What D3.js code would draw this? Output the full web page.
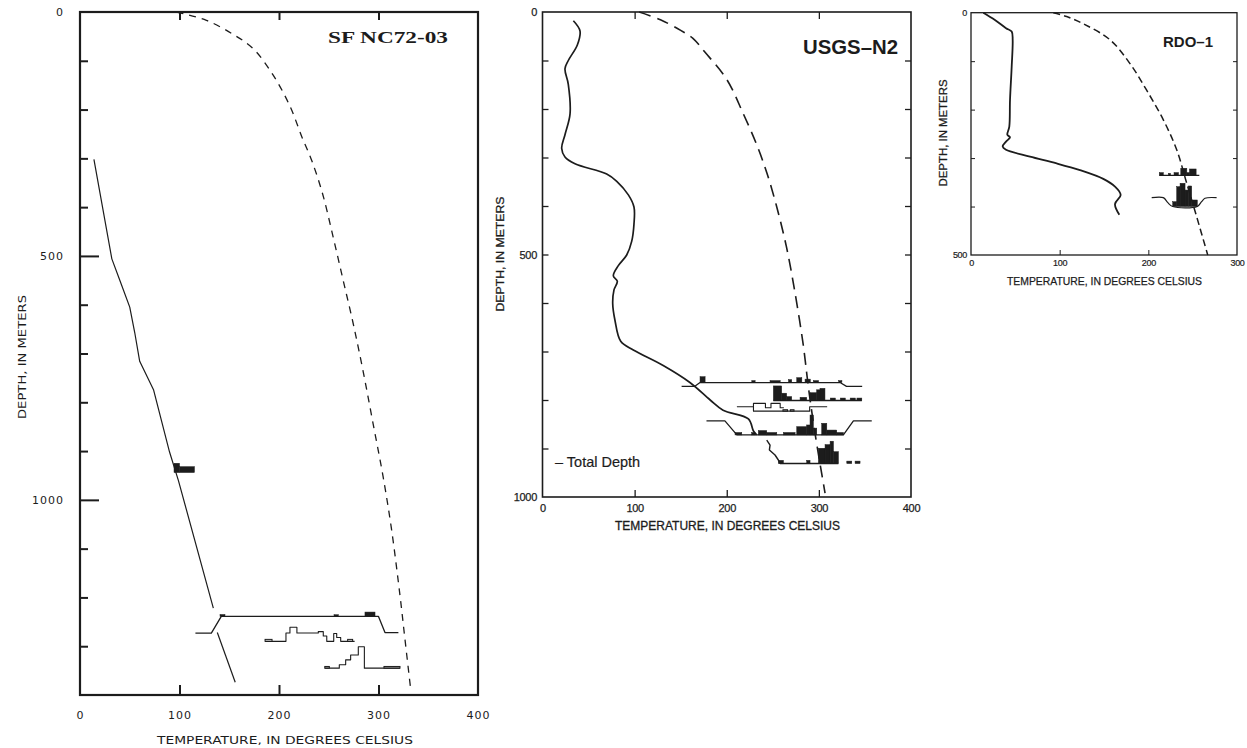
<!DOCTYPE html>
<html><head><meta charset="utf-8">
<script src="https://cdn.jsdelivr.net/npm/d3@7"></script>
<style>body{margin:0;background:#fff}svg{display:block}</style>
</head><body>
<svg id="c" width="1247" height="748"></svg>
<script>
// ---------- SF NC72-03 ----------
const sfXLabels = [0, 100, 200, 300, 400];
const sfYLabels = [0, 500, 1000];
const sfMinorY = [100, 200, 300, 400, 600, 700, 800, 900, 1100, 1200, 1300];
const sfMajorY = [500, 1000];
const sfEdgeX = [100, 200, 300];
const sfMeasured = [[14,302],[32,506],[40,550],[50,605],[55,657],[60,716],[74,775],[90,902],[99,961],[134,1222]];
const sfMeasuredLower = [[138,1272],[156,1374]];
const sfBoiling = [[97,0],[127,17],[154,46],[174,75],[194,129],[211,193],[223,256],[233,305],[244,374],[254.5,462],[264.5,550],[274.5,638],[284.5,736],[294.5,843],[304.5,951],[313,1059],[321.6,1196],[326.5,1284],[332,1382]];
const sfProfileA = [[116,1273],[132,1273],[142,1239],[300,1239],[306.5,1272],[320,1272]];
const sfProfileB = [[186,1290],[207,1290],[207,1273],[211,1273],[211,1261],[218,1261],[218,1273],[239.5,1273],[239.5,1270],[244.5,1270],[244.5,1279],[248,1279],[248,1290],[255,1290],[255,1274],[258,1274],[258,1282],[262,1282],[262,1290],[276,1290]];
const sfProfileC = [[246,1345],[260.6,1345],[260.6,1338],[267,1338],[267,1328],[272,1328],[272,1318],[279.7,1318],[279.7,1301],[285.8,1301],[285.8,1345],[321.6,1345]];
const sfBlocks = [[94.5,100,925,944],[100,115,932,944],[140.7,145.7,1235,1239],[255.3,259.6,1235.5,1239],[286.4,296.5,1230,1239]];
const sfOpen = [[186,193,1286,1290],[269,274,1286,1290],[246,250.6,1341.5,1345],[305.5,321.6,1341.5,1345]];

// ---------- USGS-N2 ----------
const usXLabels = [0, 100, 200, 300, 400];
const usYLabels = [0, 500, 1000];
const usSideY = [100, 200, 300, 400, 500, 600, 700, 800, 900];
const usEdgeX = [100, 200, 300];
const usMeasured = [[33.5,18],[40.7,39],[37.8,68],[28,100],[24.4,117],[28,149],[29.9,210],[24.4,253],[20.8,281],[24.4,299],[35.3,313],[69.7,334],[80.6,349],[93.2,377],[99.3,402],[99.3,437],[96.8,473],[91.4,501],[82.3,523],[76.9,544],[81.2,555],[77.6,573],[76.2,601],[78.7,636],[84.9,679],[98.6,697],[131,729],[160,764],[182,800],[196,821],[223.5,839],[229,864],[232.5,872]];
const usBoiling = [[105,0],[128,16],[150,38],[163,54],[176,82],[200,139],[218,210],[232.6,274],[243.4,331],[254.3,402],[265.1,487],[274.2,580],[283,686],[289,779],[296,871],[306.7,992]];
const usRow1 = [[151,772],[165,772],[171,764],[323,764],[330,772],[347,772]];
const usRow2 = [[250.6,801],[346.6,801]];
const usRow3Top = [[211,814],[229,814],[229,807],[242,807],[242,816],[248,816],[248,807],[258,807],[258,816],[262,816]];
const usRow3Base = [[229,814],[229,823],[290,823],[290,814],[309,814]];
const usRow4 = [[178,843],[198,843],[211,872],[326.6,872],[337.5,843],[357.4,843]];
const usRow5 = [[243.4,882.5],[247,893],[246.3,903],[252.4,913.4],[256,923.7],[257.9,931],[321.2,931]];
const usBlocks = [
  [171,176.5,752,764],[227.2,230.8,760,764],[247,258,760,764],[267,270.5,758,764],[276,281.5,754,764],[285,290.7,757,764],[294,299.6,760,764],[321.5,325,760,764],
  [250.6,259.6,771,801],[259.6,265,786,801],[265,270.5,793,801],[279.6,286.8,794.5,801],[290.4,297.6,785,801],[297.6,301.2,779,801],[301.2,306.6,776,801],[312.4,317.9,796,801],[323.3,328.7,796,801],[334,339.6,796,801],[341.3,346.6,796,801],
  [209,216.3,867,872],[227.1,230.7,867,872],[234.3,243.4,863,872],[243.4,254.3,867,872],[261.5,274.2,867,872],[276,286.8,855,872],[286.8,290.4,851.5,872],[290.4,294,831,872],[294,297.7,858,872],[303.1,308.6,848,872],[308.6,319.4,862,872],[319.4,326.6,867,872],
  [256,261.5,924.4,931],[286.8,290.4,924.4,931],[299.5,306.7,899.5,931],[306.7,312.2,892,931],[312.2,315.8,885,931],[315.8,321.2,906.6,931],[330.3,335.7,926,931],[339.3,344.7,926,931]
];
const usOpen = [[261,266,820,823],[269,273,820,823]];
const usTotalDepth = 927;

// ---------- RDO-1 ----------
const rdoXLabels = [0, 100, 200, 300];
const rdoYLabels = [0, 500];
const rdoSideY = [100, 200, 300, 400];
const rdoEdgeX = [100, 200];
const rdoMeasured = [[13.9,0],[27,15],[39.5,32],[45.9,39],[47,56],[45.9,111],[44,180],[43.2,235],[41,252],[44,257],[39.5,266],[35.7,276],[39.5,283],[66.5,297],[96.6,311],[122.9,325],[149.2,343],[162.4,359],[168.8,376],[162.4,395],[167.3,417]];
const rdoBoiling = [[92.8,0],[107.9,8],[126.7,23],[156.8,56],[179.3,105],[198.1,160],[216.9,221],[232,283],[243.3,352],[254.5,421],[267,500]];
const rdoRow1 = [[212.4,335.7],[257.5,335.7]];
const rdoRow2 = [[203.8,381.7],[216.9,381.7],[222,392],[227.5,400],[255.2,400],[260,390],[263.9,383],[277,381.7]];
const rdoBlocks = [[212.4,216.9,330,335.7],[222.6,225,331.5,335.7],[229,234,330,335.7],[236.6,243.4,321,335.7],[243.4,246.4,330,335.7],[246.4,253.9,322.5,335.7],
  [227.5,232,390,400],[232,235.8,359,400],[235.8,241.4,352,400],[241.4,245.1,366,400],[245.1,248.9,357.6,400],[248.9,255.2,386.5,400]];

const svg = d3.select("#c");
const ink = "#1c1c1c";

function makePanel(o) {
  const x = d3.scaleLinear().domain(o.xDomain).range([o.left, o.right]);
  const y = d3.scaleLinear().domain(o.yDomain).range([o.top, o.bottom]);
  const g = svg.append("g");
  return {g, x, y, o};
}
function tickAxis(P, axisFn, scale, vals, len, tx, ty, w) {
  const a = P.g.append("g").attr("transform", `translate(${tx},${ty})`)
    .call(axisFn(scale).tickValues(vals).tickSize(-len).tickFormat(""));
  a.select(".domain").remove();
  a.selectAll("line").attr("stroke", ink).attr("stroke-width", w);
}
function labelAxis(P, axisFn, scale, vals, pad, tx, ty, font, size, spacing, sw) {
  const a = P.g.append("g").attr("transform", `translate(${tx},${ty})`)
    .call(axisFn(scale).tickValues(vals).tickSize(0).tickPadding(pad).tickFormat(d3.format("d")));
  a.select(".domain").remove();
  a.selectAll("text").attr("fill", ink).style("font-family", font).style("font-size", size + "px")
    .style("letter-spacing", (spacing || 0) + "px")
    .attr("stroke", sw ? ink : null).attr("stroke-width", sw || null);
}
function frame(P, w) {
  const o = P.o;
  P.g.append("rect").attr("x", o.left).attr("y", o.top).attr("width", o.right - o.left)
    .attr("height", o.bottom - o.top).attr("fill", "none").attr("stroke", ink).attr("stroke-width", w);
}
function drawLine(P, data, w, dash, curve) {
  P.g.append("path").datum(data)
    .attr("d", d3.line().x(d => P.x(d[0])).y(d => P.y(d[1])).curve(curve || d3.curveLinear))
    .attr("fill", "none").attr("stroke", ink).attr("stroke-width", w)
    .attr("stroke-dasharray", dash || null).attr("stroke-linejoin", "round");
}
function drawBlocks(P, data, filled) {
  P.g.append("g").selectAll("rect").data(data).join("rect")
    .attr("x", d => P.x(d[0])).attr("y", d => P.y(d[2]))
    .attr("width", d => P.x(d[1]) - P.x(d[0])).attr("height", d => P.y(d[3]) - P.y(d[2]))
    .attr("fill", filled ? ink : "none").attr("stroke", ink).attr("stroke-width", filled ? 0.5 : 1);
}
function text(P, str, x, y, opt) {
  const t = P.g.append("text").text(str).attr("fill", ink)
    .style("font-family", opt.font).style("font-size", opt.size + "px")
    .style("font-weight", opt.weight || "normal").attr("text-anchor", opt.anchor || "start");
  if (opt.sw) t.attr("stroke", ink).attr("stroke-width", opt.sw);
  if (opt.len) t.attr("textLength", opt.len).attr("lengthAdjust", "spacingAndGlyphs");
  if (opt.rot) t.attr("transform", `translate(${x},${y}) rotate(-90)`);
  else t.attr("x", x).attr("y", y);
  return t;
}

// ===== Panel 1 =====
const P1 = makePanel({left: 80, right: 478, top: 12, bottom: 695, xDomain: [0, 400], yDomain: [0, 1400]});
{
  const o = P1.o, sans1 = "DejaVu Sans";
  drawLine(P1, sfBoiling, 1.3, "7,6", d3.curveCatmullRom);
  drawLine(P1, sfMeasured, 1.2, null, d3.curveLinear);
  drawLine(P1, sfMeasuredLower, 1.2);
  drawLine(P1, sfProfileA, 1.3);
  drawLine(P1, sfProfileB, 1.1);
  drawLine(P1, sfProfileC, 1.1);
  drawBlocks(P1, sfBlocks, true);
  drawBlocks(P1, sfOpen, false);
  frame(P1, 2.2);
  tickAxis(P1, d3.axisLeft, P1.y, sfMinorY, 8, o.left, 0, 2);
  tickAxis(P1, d3.axisLeft, P1.y, sfMajorY, 19, o.left, 0, 2);
  tickAxis(P1, d3.axisTop, P1.x, sfEdgeX, 8, 0, o.top, 2);
  tickAxis(P1, d3.axisBottom, P1.x, sfEdgeX, 10, 0, o.bottom, 2);
  labelAxis(P1, d3.axisLeft, P1.y, sfYLabels, 16, o.left, 0, sans1, 11, 1);
  labelAxis(P1, d3.axisBottom, P1.x, sfXLabels, 16, 0, o.bottom, sans1, 11, 1);
  text(P1, "TEMPERATURE, IN DEGREES CELSIUS", 285, 744, {font: sans1, size: 11, anchor: "middle", len: 256});
  text(P1, "DEPTH, IN METERS", 25.5, 357, {font: sans1, size: 10.5, anchor: "middle", len: 124, rot: true});
  text(P1, "SF NC72-03", 328, 43, {font: "Liberation Serif", size: 16.5, weight: "bold", len: 120});
}

// ===== Panel 2 =====
const P2 = makePanel({left: 542.5, right: 911, top: 12, bottom: 497, xDomain: [0, 400], yDomain: [0, 1000]});
{
  const o = P2.o, sans = "Liberation Sans";
  drawLine(P2, usBoiling, 1.6, "12,7", d3.curveCatmullRom);
  drawLine(P2, usMeasured, 1.7, null, d3.curveCatmullRom);
  drawLine(P2, usRow1, 1.3);
  drawLine(P2, usRow2, 1.3);
  drawLine(P2, usRow3Top, 1.1);
  drawLine(P2, usRow3Base, 1.1);
  drawLine(P2, usRow4, 1.3);
  drawLine(P2, usRow5, 1.4);
  drawBlocks(P2, usBlocks, true);
  drawBlocks(P2, usOpen, false);
  frame(P2, 1.6);
  tickAxis(P2, d3.axisLeft, P2.y, usSideY, 6, o.left, 0, 1.3);
  tickAxis(P2, d3.axisRight, P2.y, usSideY, 6, o.right, 0, 1.3);
  tickAxis(P2, d3.axisTop, P2.x, usEdgeX, 7, 0, o.top, 1.3);
  tickAxis(P2, d3.axisBottom, P2.x, usEdgeX, 7, 0, o.bottom, 1.3);
  labelAxis(P2, d3.axisLeft, P2.y, usYLabels, 5.5, o.left, 0, sans, 11, -0.3, 0.25);
  labelAxis(P2, d3.axisBottom, P2.x, usXLabels, 7, 0, o.bottom, sans, 11, -0.3, 0.25);
  text(P2, "TEMPERATURE, IN DEGREES CELSIUS", 727.5, 530, {font: sans, size: 12, anchor: "middle", len: 225, sw: 0.3});
  text(P2, "DEPTH, IN METERS", 504, 254, {font: sans, size: 11.5, anchor: "middle", len: 115, rot: true, sw: 0.3});
  text(P2, "USGS\u2013N2", 803, 54, {font: sans, size: 20, weight: "bold", len: 95});
  text(P2, "\u2013 Total Depth", 555, P2.y(usTotalDepth) + 5, {font: sans, size: 14.5, sw: 0.2});
}

// ===== Panel 3 =====
const P3 = makePanel({left: 971, right: 1237, top: 12.7, bottom: 255, xDomain: [0, 300], yDomain: [0, 500]});
{
  const o = P3.o, sans = "Liberation Sans";
  drawLine(P3, rdoBoiling, 1.5, "7,4", d3.curveCatmullRom);
  drawLine(P3, rdoMeasured, 1.8, null, d3.curveCatmullRom);
  drawLine(P3, rdoRow1, 1.2);
  drawLine(P3, rdoRow2, 1.2, null, d3.curveCatmullRom);
  drawBlocks(P3, rdoBlocks, true);
  frame(P3, 1.3);
  tickAxis(P3, d3.axisLeft, P3.y, rdoSideY, 4, o.left, 0, 1);
  tickAxis(P3, d3.axisRight, P3.y, rdoSideY, 4, o.right, 0, 1);
  tickAxis(P3, d3.axisBottom, P3.x, rdoEdgeX, 5, 0, o.bottom, 1);
  labelAxis(P3, d3.axisLeft, P3.y, rdoYLabels, 4, o.left, 0, sans, 9, -0.3, 0.2);
  labelAxis(P3, d3.axisBottom, P3.x, rdoXLabels, 5, 0, o.bottom, sans, 9, -0.3, 0.2);
  text(P3, "TEMPERATURE, IN DEGREES CELSIUS", 1104.5, 285, {font: sans, size: 11, anchor: "middle", len: 195, sw: 0.25});
  text(P3, "DEPTH, IN METERS", 947, 133, {font: sans, size: 10, anchor: "middle", len: 107, rot: true, sw: 0.25});
  text(P3, "RDO\u20131", 1163, 46.7, {font: sans, size: 15, weight: "bold", len: 50});
}
</script>
</body></html>
